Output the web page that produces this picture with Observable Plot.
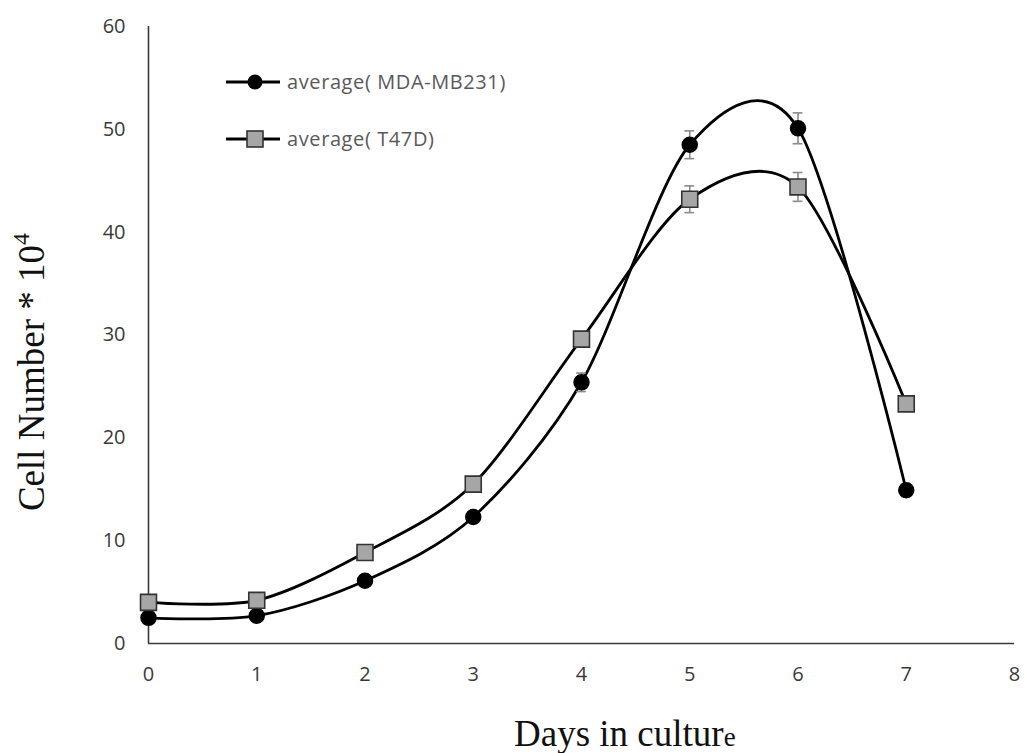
<!DOCTYPE html>
<html>
<head>
<meta charset="utf-8">
<script src="https://cdn.jsdelivr.net/npm/d3@7"></script>
<script src="https://cdn.jsdelivr.net/npm/@observablehq/plot@0.6"></script>
<style>
  html, body { margin: 0; padding: 0; background: white; }
</style>
</head>
<body>
<div id="chart"></div>
<script>
// ---- data ----
const days = [0, 1, 2, 3, 4, 5, 6, 7];
const mdaValues = [2.5, 2.7, 6.1, 12.3, 25.4, 48.5, 50.1, 14.9];
const mdaErrors = [0.3, 0.3, 0.4, 0.5, 0.9, 1.35, 1.5, 0.6];
const t47dValues = [4.0, 4.2, 8.85, 15.5, 29.6, 43.2, 44.4, 23.3];
const t47dErrors = [0.3, 0.3, 0.4, 0.5, 0.6, 1.3, 1.4, 0.6];
const seriesNames = ["average( MDA-MB231)", "average( T47D)"];
const xTicks = [0, 1, 2, 3, 4, 5, 6, 7, 8];
const yTicks = [0, 10, 20, 30, 40, 50, 60];

const mdaRows = days.map((d, i) => ({day: d, value: mdaValues[i], err: mdaErrors[i], series: seriesNames[0]}));
const t47dRows = days.map((d, i) => ({day: d, value: t47dValues[i], err: t47dErrors[i], series: seriesNames[1]}));
const rows = mdaRows.concat(t47dRows);

const capHalf = 0.045;
const tickFont = "'Open Sans', sans-serif";

const chart = Plot.plot({
  width: 1026,
  height: 753,
  marginLeft: 148,
  marginRight: 12,
  marginTop: 26,
  marginBottom: 110,
  style: {fontFamily: tickFont, fontSize: "20px", color: "#3a3a3a", background: "white"},
  x: {domain: [0, 8]},
  y: {domain: [0, 60]},
  marks: [
    Plot.axisX({ticks: xTicks, tickSize: 0, tickPadding: 23, fontSize: 20, label: null, fill: "#3a3a3a"}),
    Plot.axisY({ticks: yTicks, tickSize: 0, tickPadding: 23, fontSize: 20, label: null, fill: "#3a3a3a"}),
    Plot.ruleY([0], {stroke: "#3a3a3a", strokeWidth: 1.6}),
    Plot.ruleX([0], {stroke: "#3a3a3a", strokeWidth: 1.6}),
    Plot.line(rows, {x: "day", y: "value", z: "series", curve: "cardinal", tension: 0.1, stroke: "black", strokeWidth: 2.8}),
    Plot.ruleX(rows, {x: "day", y1: d => d.value - d.err, y2: d => d.value + d.err, stroke: "#8a8a8a", strokeWidth: 1.6}),
    Plot.ruleY(rows, {y: d => d.value - d.err, x1: d => d.day - capHalf, x2: d => d.day + capHalf, stroke: "#8a8a8a", strokeWidth: 1.6}),
    Plot.ruleY(rows, {y: d => d.value + d.err, x1: d => d.day - capHalf, x2: d => d.day + capHalf, stroke: "#8a8a8a", strokeWidth: 1.6}),
    Plot.dot(mdaRows, {x: "day", y: "value", r: 7.5, fill: "black", stroke: "black"}),
    Plot.dot(t47dRows, {x: "day", y: "value", symbol: "square", r: 9, fill: "#a6a6a6", stroke: "#333", strokeWidth: 1.6})
  ]
});

document.getElementById("chart").appendChild(chart);

const svg = d3.select(chart);

// legend
const legendItems = [
  {name: seriesNames[0], y: 82, kind: "circle"},
  {name: seriesNames[1], y: 139, kind: "square"}
];
const lg = svg.append("g").attr("class", "legend");
legendItems.forEach(item => {
  const g = lg.append("g");
  g.append("line").attr("x1", 226).attr("x2", 280).attr("y1", item.y).attr("y2", item.y)
    .attr("stroke", "black").attr("stroke-width", 2.8);
  if (item.kind === "circle") {
    g.append("circle").attr("cx", 255).attr("cy", item.y).attr("r", 7.5).attr("fill", "black");
  } else {
    g.append("rect").attr("x", 247).attr("y", item.y - 8).attr("width", 16).attr("height", 16)
      .attr("fill", "#a6a6a6").attr("stroke", "#333").attr("stroke-width", 1.6);
  }
  g.append("text").attr("x", 287).attr("y", item.y).attr("dy", "0.35em")
    .attr("text-anchor", "start")
    .attr("fill", "#595959").attr("font-family", "'Open Sans', sans-serif").attr("font-size", 20)
    .attr("letter-spacing", 0.6)
    .text(item.name);
});

// y axis title
const yt = svg.append("text")
  .attr("transform", "translate(44,372) rotate(-90)")
  .attr("text-anchor", "middle")
  .attr("font-family", "'Liberation Serif', 'Times New Roman', serif")
  .attr("font-size", 37)
  .attr("fill", "#111");
yt.append("tspan").text("Cell Number * 10");
yt.append("tspan").attr("font-size", 24).attr("dy", -15).text("4");

// x axis title
const xt = svg.append("text")
  .attr("x", 514).attr("y", 746)
  .attr("text-anchor", "start")
  .attr("font-family", "'Liberation Serif', 'Times New Roman', serif")
  .attr("font-size", 37)
  .attr("fill", "#111");
xt.append("tspan").text("Days in cultur");
xt.append("tspan").attr("font-size", 27).text("e");
</script>
</body>
</html>
